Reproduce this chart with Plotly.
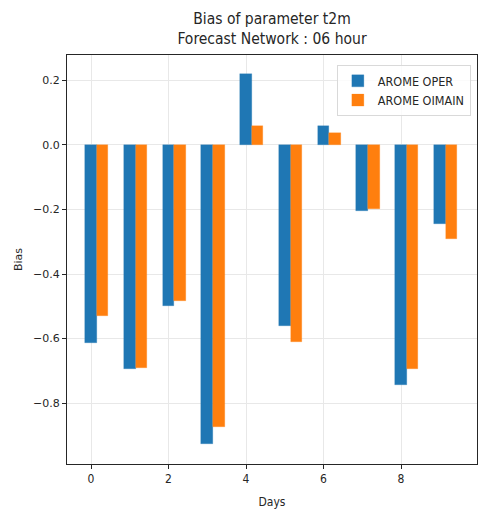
import plotly.graph_objects as go

days = [0, 1, 2, 3, 4, 5, 6, 7, 8, 9]
oper = [-0.614, -0.696, -0.499, -0.928, 0.220, -0.561, 0.060, -0.204, -0.743, -0.246]
oimain = [-0.531, -0.692, -0.484, -0.873, 0.060, -0.611, 0.036, -0.199, -0.696, -0.291]
x_ticks = [0, 2, 4, 6, 8]
y_ticks = [0.2, 0.0, -0.2, -0.4, -0.6, -0.8]
y_ticklabels = ["0.2", "0.0", "\u22120.2", "\u22120.4", "\u22120.6", "\u22120.8"]

FONT = "DejaVu Sans"
CFONT = "DejaVu Sans Condensed, DejaVu Sans"
TXT = "#262626"

fig = go.Figure()
fig.add_trace(go.Bar(x=days, y=oper, name="AROME OPER", width=0.3, offset=-0.15,
                     marker=dict(color="#1f77b4", line=dict(color="rgba(31,119,180,0.5)", width=0.5))))
fig.add_trace(go.Bar(x=days, y=oimain, name="AROME OIMAIN", width=0.3, offset=0.15,
                     marker=dict(color="#ff7f0e", line=dict(color="rgba(255,127,14,0.5)", width=0.5))))

fig.update_layout(
    width=488, height=517,
    margin=dict(l=67, r=11, t=55, b=53),
    paper_bgcolor="white", plot_bgcolor="white",
    font=dict(family=FONT, size=11, color=TXT),
    title=dict(text="Bias of parameter t2m<br>Forecast Network : 06 hour",
               x=272 / 488, xanchor="center", xref="container",
               y=1 - 24 / 517, yanchor="top", yref="container",
               font=dict(family=CFONT, size=15.5, color=TXT)),
    showlegend=True,
    legend=dict(x=0.985, y=0.975, xanchor="right", yanchor="top",
                bordercolor="#d9d9d9", borderwidth=1, bgcolor="rgba(255,255,255,0.8)",
                font=dict(family=CFONT, size=12.5, color=TXT), tracegroupgap=4),
    bargap=0,
)
fig.update_xaxes(range=[-0.62, 9.96], tickmode="array", tickvals=x_ticks,
                 ticks="outside", ticklen=4, tickcolor=TXT,
                 tickfont=dict(family=CFONT, size=12, color=TXT),
                 showgrid=True, gridcolor="#e8e8e8", gridwidth=1,
                 showline=True, linecolor=TXT, linewidth=1, mirror=True,
                 zeroline=False,
                 title=dict(text="Days", font=dict(family=CFONT, size=12, color=TXT), standoff=12))
fig.update_yaxes(range=[-0.989, 0.279], tickmode="array", tickvals=y_ticks, ticktext=y_ticklabels,
                 ticks="outside", ticklen=4, tickcolor=TXT,
                 tickfont=dict(family=FONT, size=11, color=TXT),
                 showgrid=True, gridcolor="#e8e8e8", gridwidth=1,
                 showline=True, linecolor=TXT, linewidth=1, mirror=True,
                 zeroline=False,
                 title=dict(text="Bias", font=dict(family=FONT, size=11, color=TXT), standoff=8))

fig.write_html("out.html", config={"displayModeBar": False},
               post_script="document.body.style.margin='0';document.body.style.overflow='hidden';")
